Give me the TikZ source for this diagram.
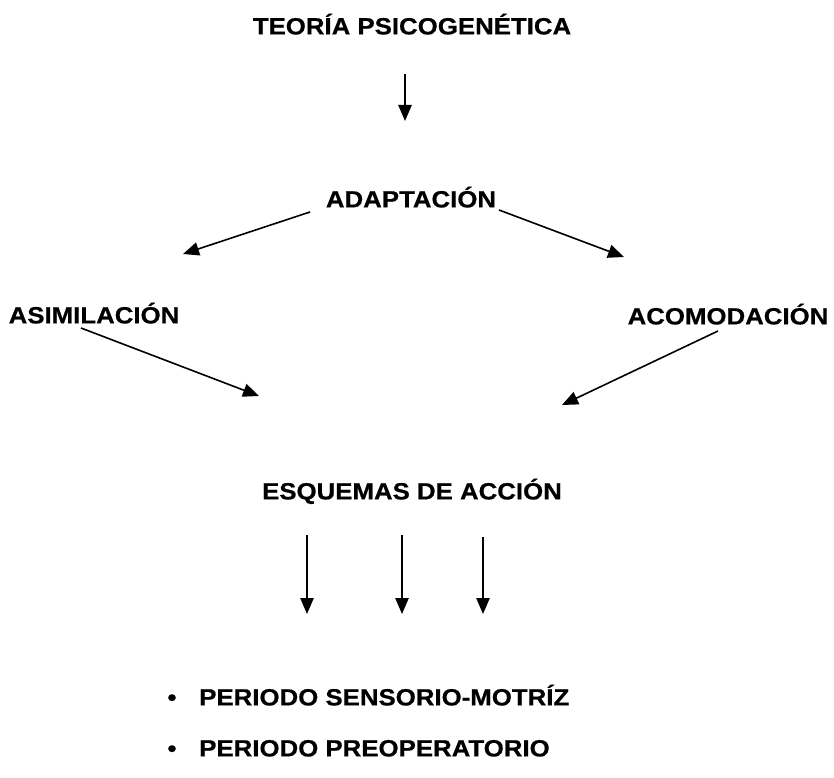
\documentclass[tikz,border=0pt]{standalone}
\usepackage{fontspec}
\usetikzlibrary{arrows.meta}
\newfontfamily\lblfont{Liberation Sans}[FakeStretch=1.1,FakeBold=0.6]
\begin{document}
\begin{tikzpicture}[x=0.75pt,y=-0.75pt,
  lbl/.style={inner sep=0pt,text height=12.6pt,text depth=0pt,
    font=\lblfont\bfseries\fontsize{17.6}{21}\selectfont},
  arr/.style={line width=1.2pt,-{Triangle[length=12pt,width=10pt]}}]
\useasboundingbox (0,0) rectangle (834,777);
\fill[white] (0,0) rectangle (834,777);
% labels
\node[lbl] (teo) at (412,26) {TEORÍA PSICOGENÉTICA};
\node[lbl] (ada) at (411,199) {ADAPTACIÓN};
\node[lbl] (asi) at (94,315) {ASIMILACIÓN};
\node[lbl] (aco) at (728,316) {ACOMODACIÓN};
\node[lbl] (esq) at (412,491) {ESQUEMAS DE ACCIÓN};
\node[lbl,anchor=west] (p1) at (199,697) {PERIODO SENSORIO-MOTRÍZ};
\node[lbl,anchor=west] (p2) at (199,748) {PERIODO PREOPERATORIO};
\node[lbl,anchor=center] (b1) at (172,697) {•};
\node[lbl,anchor=center] (b2) at (172,748) {•};
% connector end points
\coordinate (t1) at (405,74);   \coordinate (t2) at (405,121);
\coordinate (al1) at (310,212); \coordinate (al2) at (183,254);
\coordinate (ar1) at (499,210); \coordinate (ar2) at (624,257);
\coordinate (sl1) at (81,328);  \coordinate (sl2) at (259,396);
\coordinate (sr1) at (718,331); \coordinate (sr2) at (562,405);
\coordinate (e1a) at (307,535); \coordinate (e1b) at (307,614);
\coordinate (e2a) at (402,535); \coordinate (e2b) at (402,614);
\coordinate (e3a) at (483,537); \coordinate (e3b) at (483,614);
% arrows
\draw[arr] (t1) -- (t2);
\draw[arr] (al1) -- (al2);
\draw[arr] (ar1) -- (ar2);
\draw[arr] (sl1) -- (sl2);
\draw[arr] (sr1) -- (sr2);
\draw[arr] (e1a) -- (e1b);
\draw[arr] (e2a) -- (e2b);
\draw[arr] (e3a) -- (e3b);
\end{tikzpicture}
\end{document}
